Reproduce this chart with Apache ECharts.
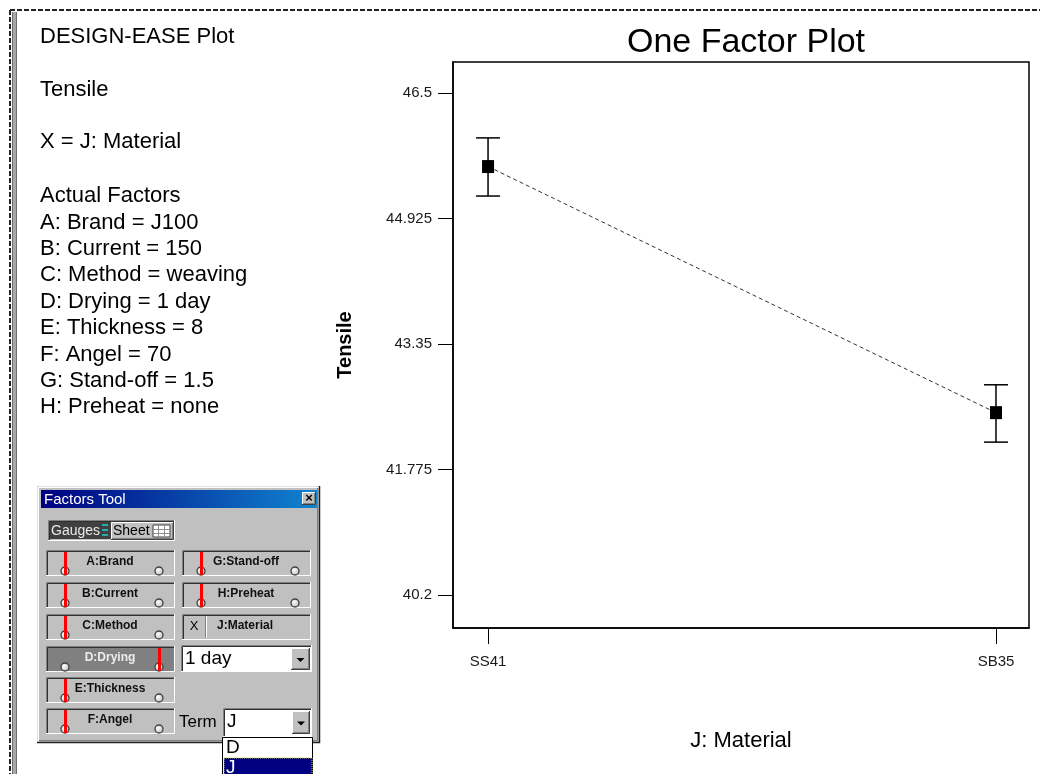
<!DOCTYPE html>
<html>
<head>
<meta charset="utf-8">
<script src="https://cdn.jsdelivr.net/npm/echarts@6/dist/echarts.min.js"></script>
<style>
html,body{margin:0;padding:0;background:#fff;}
#chart{width:1040px;height:774px;}
</style>
</head>
<body>
<div id="chart"></div>
<script>
// ---------- data ----------
const categories = ['SS41', 'SB35'];
const tensileMean = [45.58, 42.49];
const tensileLow = [45.21, 42.12];
const tensileHigh = [45.94, 42.84];
const yTicks = [40.2, 41.775, 43.35, 44.925, 46.5];
const yMin = 39.786;
const yMax = 46.893;

const titleText = 'One Factor Plot';
const yName = 'Tensile';
const xName = 'J: Material';

const headerLines = ['DESIGN-EASE Plot', 'Tensile', 'X = J: Material'];
const factorHeader = 'Actual Factors';
const factorLines = [
  'A: Brand = J100',
  'B: Current = 150',
  'C: Method = weaving',
  'D: Drying = 1 day',
  'E: Thickness = 8',
  'F: Angel = 70',
  'G: Stand-off = 1.5',
  'H: Preheat = none'
];
const gaugeLeft = ['A:Brand', 'B:Current', 'C:Method', 'D:Drying', 'E:Thickness', 'F:Angel'];
const gaugeRight = ['G:Stand-off', 'H:Preheat'];
const dryingValue = '1 day';
const termValue = 'J';
const termList = ['D', 'J'];

// ---------- helpers for the Factors Tool panel ----------
const FONT = "'Liberation Sans', Arial, sans-serif";
const g = [];
function rect(x, y, w, h, fill, extra) {
  g.push(Object.assign({type: 'rect', shape: {x, y, width: w, height: h}, style: {fill: fill}, silent: true}, extra || {}));
}
function pl(points, color, width) {
  g.push({type: 'polyline', shape: {points}, style: {stroke: color, lineWidth: width || 1, fill: null}, silent: true});
}
function txt(x, y, text, font, color, align, extra) {
  g.push(Object.assign({type: 'text', x, y, style: {text, font, fill: color || '#000', textAlign: align || 'left', textVerticalAlign: 'middle'}, silent: true}, extra || {}));
}
function sunken(x, y, w, h, fill) {
  rect(x, y, w, h, fill);
  pl([[x + 0.5, y + h], [x + 0.5, y + 0.5], [x + w, y + 0.5]], '#808080', 1);
  pl([[x + 1.5, y + h - 1], [x + 1.5, y + 1.5], [x + w - 1, y + 1.5]], '#303030', 1);
  pl([[x + w - 0.5, y], [x + w - 0.5, y + h - 0.5], [x, y + h - 0.5]], '#ffffff', 1);
}
function raised(x, y, w, h, fill) {
  rect(x, y, w, h, fill);
  pl([[x + 0.5, y + h], [x + 0.5, y + 0.5], [x + w, y + 0.5]], '#ffffff', 1);
  pl([[x + w - 0.5, y], [x + w - 0.5, y + h - 0.5], [x, y + h - 0.5]], '#404040', 1);
  pl([[x + w - 1.5, y + 1], [x + w - 1.5, y + h - 1.5], [x + 1, y + h - 1.5]], '#808080', 1);
}
function knob(cx, cy) {
  g.push({type: 'circle', shape: {cx, cy, r: 4}, style: {fill: {type: 'radial', x: 0.4, y: 0.4, r: 0.7, colorStops: [{offset: 0, color: '#ffffff'}, {offset: 1, color: '#b0b0b0'}]}, stroke: '#404040', lineWidth: 1.3}, silent: true});
}
function gauge(x, y, label, dark) {
  const w = 129, h = 26;
  sunken(x, y, w, h, dark ? '#808080' : '#c0c0c0');
  txt(x + 64, y + 12, label, 'bold 12px ' + FONT, dark ? '#ececec' : '#101010', 'center');
  knob(x + 19, y + 21);
  knob(x + 113, y + 21);
  const rx = dark ? x + 112 : x + 18;
  rect(rx, y + 2, 3, h - 3, '#ff0000');
}
function arrowBtn(x, y, w, h) {
  raised(x, y, w, h, '#c0c0c0');
  const cx = x + w / 2, cy = y + h / 2 + 1;
  g.push({type: 'polygon', shape: {points: [[cx - 4, cy - 2], [cx + 4, cy - 2], [cx, cy + 2]]}, style: {fill: '#000'}, silent: true});
}

// outer dashed frame
pl([[10, 10], [1040, 10]], '#222', 2);
g[g.length - 1].style.lineDash = [5, 2];
pl([[10, 10], [10, 774]], '#222', 2);
g[g.length - 1].style.lineDash = [5, 2];
rect(13, 12, 3, 762, '#a8a8a8');
pl([[12.5, 12], [12.5, 774]], '#707070', 1);
pl([[16.5, 12], [16.5, 774]], '#707070', 1);

// header text
const LFONT = '22px ' + FONT;
const headerY = [37, 90, 142];
headerLines.forEach((t, i) => txt(40, headerY[i], t, LFONT, '#000'));
txt(40, 196, factorHeader, LFONT, '#000');
factorLines.forEach((t, i) => txt(40, 222.5 + i * 26.4, t, LFONT, '#000'));

// dialog body
rect(37, 486, 283, 257, '#c0c0c0');
pl([[37.5, 743], [37.5, 486.5], [320, 486.5]], '#e0e0e0', 1);
pl([[38.5, 742], [38.5, 487.5], [319, 487.5]], '#ffffff', 1);
pl([[319.5, 486], [319.5, 742.5], [37, 742.5]], '#202020', 1.5);
pl([[317.5, 488], [317.5, 740.5], [39, 740.5]], '#808080', 1);
// title bar
rect(41, 490, 276, 18, {type: 'linear', x: 0, y: 0, x2: 1, y2: 0, colorStops: [{offset: 0, color: '#000080'}, {offset: 1, color: '#1084d0'}]});
txt(44, 499.5, 'Factors Tool', '15px ' + FONT, '#ffffff');
raised(302, 492, 14, 13, '#c0c0c0');
txt(309, 498.5, '×', 'bold 13px ' + FONT, '#000', 'center');

// Gauges / Sheet buttons
sunken(48, 520, 127, 21, '#c0c0c0');
rect(50, 522, 61, 17, '#404040');
txt(51, 531, 'Gauges', '14px ' + FONT, '#e8e8e8');
rect(102, 524, 6, 2, '#20b0b0');
rect(102, 529, 6, 2, '#20b0b0');
rect(102, 534, 6, 2, '#20b0b0');
raised(111, 522, 63, 18, '#c0c0c0');
txt(113, 531, 'Sheet', '14px ' + FONT, '#000');
rect(153, 525, 17, 12, '#ffffff');
g[g.length - 1].style.stroke = '#404040';
g[g.length - 1].style.lineWidth = 1;
[158, 164].forEach(vx => pl([[vx + 0.5, 525], [vx + 0.5, 537]], '#909090', 1));
[529, 533].forEach(vy => pl([[153, vy + 0.5], [170, vy + 0.5]], '#909090', 1));

// gauges
const rowY = [550, 582, 614, 646, 677, 708];
gaugeLeft.forEach((lab, i) => gauge(46, rowY[i], lab, lab === 'D:Drying'));
gaugeRight.forEach((lab, i) => gauge(182, rowY[i], lab, false));
// J:Material (x factor)
sunken(182, 614, 129, 26, '#c0c0c0');
pl([[205.5, 616], [205.5, 638]], '#808080', 1);
pl([[206.5, 616], [206.5, 638]], '#ffffff', 1);
txt(194, 626, 'X', '13px ' + FONT, '#000', 'center');
txt(245, 626, 'J:Material', 'bold 12px ' + FONT, '#101010', 'center');
// drying combo
sunken(181, 645, 131, 27, '#ffffff');
txt(185, 659, dryingValue, '19px ' + FONT, '#000');
arrowBtn(291, 648, 19, 22);
// term
txt(179, 722, 'Term', '17px ' + FONT, '#000');
sunken(223, 708, 89, 29, '#ffffff');
txt(227, 722, termValue, '19px ' + FONT, '#000');
arrowBtn(292, 711, 18, 23);
// dropdown list
rect(222.5, 737.5, 90, 40, '#ffffff');
g[g.length - 1].style.stroke = '#000';
g[g.length - 1].style.lineWidth = 1;
txt(226, 748, termList[0], '19px ' + FONT, '#000');
rect(224, 758, 88, 17, '#000080');
g[g.length - 1].style.stroke = '#c8c870';
g[g.length - 1].style.lineDash = [1, 1];
txt(226, 768, termList[1], '19px ' + FONT, '#ffffff');

// ---------- chart ----------
const chart = echarts.init(document.getElementById('chart'), null, {renderer: 'canvas'});
const lineData = categories.map((c, i) => [i, tensileMean[i]]);
const errData = categories.map((c, i) => [i, tensileLow[i], tensileHigh[i]]);

chart.setOption({
  animation: false,
  backgroundColor: '#ffffff',
  title: {
    text: titleText,
    left: 741, top: 21, textAlign: 'center',
    textStyle: {fontFamily: FONT, fontSize: 34, fontWeight: 'normal', color: '#000'}
  },
  grid: {left: 453, right: 11, top: 62, bottom: 146, show: true, borderColor: '#000', borderWidth: 1.5, backgroundColor: '#fff'},
  xAxis: {
    type: 'value', min: -0.069, max: 1.065,
    name: xName, nameLocation: 'middle', nameGap: 102,
    nameTextStyle: {fontFamily: FONT, fontSize: 22, color: '#000'},
    axisLine: {show: true, onZero: false, lineStyle: {color: '#000', width: 1.5}},
    axisTick: {show: true, length: 16, customValues: [0, 1], lineStyle: {color: '#000', width: 1}},
    axisLabel: {customValues: [0, 1], margin: 26, fontFamily: "'Liberation Sans Narrow', " + FONT, fontSize: 15, color: '#1a1a1a',
      formatter: v => categories[Math.round(v)] || ''},
    splitLine: {show: false}
  },
  yAxis: {
    type: 'value', min: yMin, max: yMax,
    name: yName, nameLocation: 'middle', nameGap: 98, nameRotate: 90,
    nameTextStyle: {fontFamily: FONT, fontSize: 20, fontWeight: 'bold', color: '#000'},
    axisLine: {show: true, onZero: false, lineStyle: {color: '#000', width: 1.5}},
    axisTick: {show: true, length: 15, customValues: yTicks, lineStyle: {color: '#000', width: 1}},
    axisLabel: {customValues: yTicks, margin: 21, fontFamily: "'Liberation Sans Narrow', " + FONT, fontSize: 15, color: '#1a1a1a',
      formatter: v => String(v)},
    splitLine: {show: false}
  },
  series: [
    {
      type: 'custom',
      data: errData,
      encode: {x: 0, y: [1, 2]},
      z: 3,
      renderItem: function (params, api) {
        const x = api.value(0);
        const lo = api.coord([x, api.value(1)]);
        const hi = api.coord([x, api.value(2)]);
        const hw = 12;
        const st = {stroke: '#000', lineWidth: 1.5, fill: null};
        return {
          type: 'group',
          children: [
            {type: 'line', shape: {x1: lo[0], y1: lo[1], x2: hi[0], y2: hi[1]}, style: st},
            {type: 'line', shape: {x1: hi[0] - hw, y1: hi[1], x2: hi[0] + hw, y2: hi[1]}, style: st},
            {type: 'line', shape: {x1: lo[0] - hw, y1: lo[1], x2: lo[0] + hw, y2: lo[1]}, style: st}
          ]
        };
      }
    },
    {
      type: 'line',
      data: lineData,
      z: 4,
      symbol: 'rect',
      symbolSize: [12, 13],
      itemStyle: {color: '#000'},
      lineStyle: {color: '#333', width: 1, type: [4, 3]}
    }
  ],
  graphic: g
});
</script>
</body>
</html>
